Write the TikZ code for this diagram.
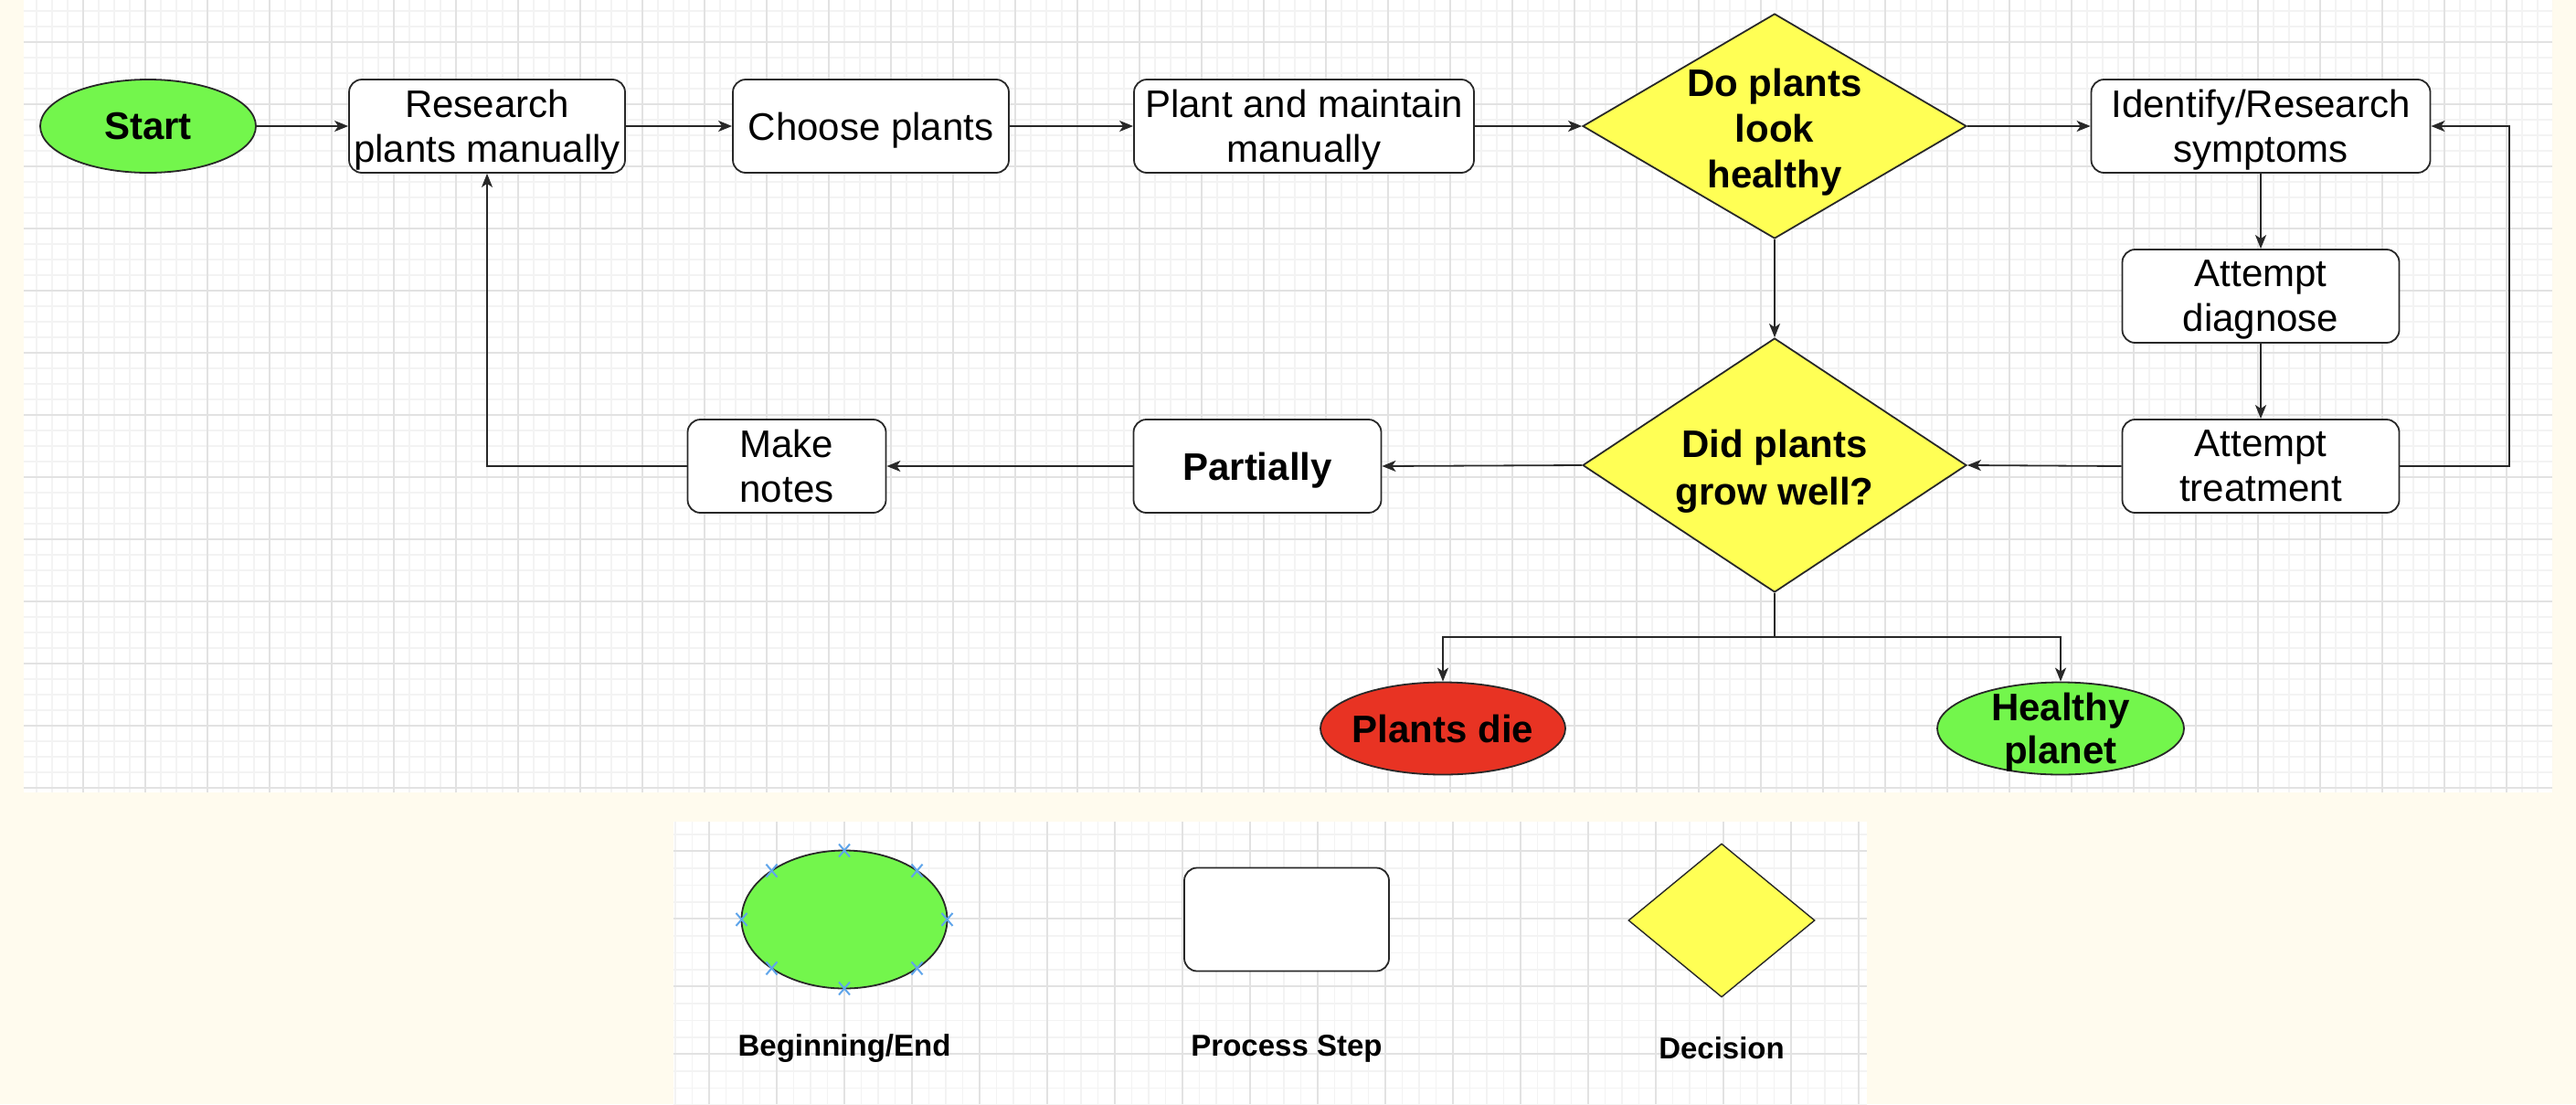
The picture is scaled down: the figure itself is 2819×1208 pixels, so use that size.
\documentclass[tikz,border=0pt]{standalone}
\usepackage{fontspec}
\setmainfont{Liberation Sans}
\usetikzlibrary{arrows.meta,shapes.geometric}
\definecolor{bgc}{RGB}{255,251,238}
\definecolor{minorc}{RGB}{243,243,243}
\definecolor{majorc}{RGB}{226,226,226}
\definecolor{edgec}{RGB}{40,40,40}
\definecolor{greenc}{RGB}{115,246,76}
\definecolor{redc}{RGB}{232,51,35}
\definecolor{yellowc}{RGB}{255,255,85}
\definecolor{markc}{RGB}{95,165,235}
\tikzset{
  base/.style={draw=edgec, line width=1.8pt, inner sep=0pt, align=center,
    text depth=0pt, font=\fontsize{42}{49}\selectfont},
  procbox/.style={base, rectangle, rounded corners=14pt, fill=white,
    minimum height=102pt},
  termgreen/.style={base, ellipse, fill=greenc},
  termred/.style={base, ellipse, fill=redc},
  decide/.style={base, diamond, fill=yellowc},
  boldtext/.style={inner sep=0pt, align=center, text depth=0pt,
    font=\fontsize{42}{50}\selectfont\bfseries},
  conn/.style={draw=edgec, line width=1.8pt, -{Stealth[length=15pt,width=12pt,inset=4pt]}},
  plainline/.style={draw=edgec, line width=1.8pt},
  minorg/.style={draw=minorc, line width=1.2pt},
  majorg/.style={draw=majorc, line width=1.6pt},
  legtext/.style={font=\fontsize{33}{39}\selectfont\bfseries, inner sep=0pt},
}
\begin{document}
\begin{tikzpicture}[x=1pt,y=-1pt]
\useasboundingbox (0,0) rectangle (2819,1208);
\fill[bgc] (0,0) rectangle (2819,1208);
% main panel
\fill[white] (26,0) rectangle (2793,867);
\begin{scope}
\clip (26,0) rectangle (2793,867);
\foreach \i in {0,...,163} {\draw[minorg] ({23+17*\i},0) -- ({23+17*\i},867);}
\foreach \i in {0,...,51} {\draw[minorg] (26,{12+17*\i}) -- (2793,{12+17*\i});}
\foreach \i in {0,...,41} {\draw[majorg] ({23+68*\i},0) -- ({23+68*\i},867);}
\foreach \i in {0,...,12} {\draw[majorg] (26,{46+68*\i}) -- (2793,{46+68*\i});}
\end{scope}
% legend panel
\fill[white] (737,899) rectangle (2043,1208);
\begin{scope}
\clip (737,899) rectangle (2043,1208);
\foreach \i in {0,...,72} {\draw[minorg] ({720.5+18.5*\i},899) -- ({720.5+18.5*\i},1208);}
\foreach \i in {0,...,18} {\draw[minorg] (737,{894.5+18.5*\i}) -- (2043,{894.5+18.5*\i});}
\foreach \i in {0,...,18} {\draw[majorg] ({702+74*\i},899) -- ({702+74*\i},1208);}
\foreach \i in {0,...,5} {\draw[majorg] (737,{857+74*\i}) -- (2043,{857+74*\i});}
\end{scope}

% nodes
\node[termgreen, minimum width=236pt, minimum height=102pt] (start) at (162,138) {};
\node[boldtext] (startt) at (start.center) {Start};
\node[procbox, minimum width=302pt] (research) at (533,138) {Research\\plants manually};
\node[procbox, minimum width=302pt] (choose) at (953,138) {Choose plants};
\node[procbox, minimum width=372pt] (plant) at (1427,138) {Plant and maintain\\manually};
\node[decide, minimum width=420pt, minimum height=246pt] (d1) at (1942,138) {};
\node[boldtext] (d1t) at (1942,140) {Do plants\\look\\healthy};
\node[procbox, minimum width=371pt] (identify) at (2474,138) {Identify/Research\\symptoms};
\node[procbox, minimum width=303pt] (diagnose) at (2474,324) {Attempt\\diagnose};
\node[procbox, minimum width=303pt] (treatment) at (2474,510) {Attempt\\treatment};
\node[decide, minimum width=420pt, minimum height=278pt] (d2) at (1942,509) {};
\node[boldtext, font=\fontsize{42}{52}\selectfont\bfseries] (d2t) at (1942,511) {Did plants\\grow well?};
\node[procbox, minimum width=271pt, font=\fontsize{42}{49}\selectfont\bfseries] (partial) at (1376,510) {Partially};
\node[procbox, minimum width=217pt] (notes) at (861,510) {Make\\notes};
\node[termred, minimum width=268pt, minimum height=101pt] (die) at (1579,797) {};
\node[boldtext] (diet) at (die.center) {Plants die};
\node[termgreen, minimum width=270pt, minimum height=101pt] (healthy) at (2255,797) {};
\node[boldtext, font=\fontsize{42}{47}\selectfont\bfseries] (healthyt) at (healthy.center) {Healthy\\planet};

\coordinate (rloop) at (2746,300);
\coordinate (br) at (1942,697);

% connectors
\draw[conn] (start.east) -- (research.west);
\draw[conn] (research.east) -- (choose.west);
\draw[conn] (choose.east) -- (plant.west);
\draw[conn] (plant.east) -- (d1.west);
\draw[conn] (d1.east) -- (identify.west);
\draw[conn] (identify.south) -- (diagnose.north);
\draw[conn] (diagnose.south) -- (treatment.north);
\draw[conn] (treatment.west) -- (d2.east);
\draw[conn] (treatment.east) -- (treatment.east -| rloop) |- (identify.east);
\draw[conn] (d1.south) -- (d2.north);
\draw[conn] (d2.west) -- (partial.east);
\draw[conn] (partial.west) -- (notes.east);
\draw[conn] (notes.west) -| (research.south);
\draw[plainline] (d2.south) -- (br);
\draw[conn] (br) -| (die.north);
\draw[conn] (br) -| (healthy.north);

% legend
\node[base, ellipse, fill=greenc, minimum width=225pt, minimum height=151pt] (legend1) at (924,1006) {};
\node[base, rectangle, rounded corners=14pt, fill=white, minimum width=224pt, minimum height=113pt] (legend2) at (1408,1006) {};
\node[base, diamond, fill=yellowc, line width=1.4pt, minimum width=204pt, minimum height=168pt] (legend3) at (1884,1007) {};
\foreach \a in {0,45,...,315} {
  \draw[markc, line width=2pt] ({924+112.5*cos(\a)-6},{1006+75.5*sin(\a)-7}) -- ++(12,14)
    ({924+112.5*cos(\a)-6},{1006+75.5*sin(\a)+7}) -- ++(12,-14);
}
\node[legtext] (lab1) at (924,1147) {Beginning/End};
\node[legtext] (lab2) at (1408,1147) {Process Step};
\node[legtext] (lab3) at (1884,1147) {Decision};
\end{tikzpicture}
\end{document}
